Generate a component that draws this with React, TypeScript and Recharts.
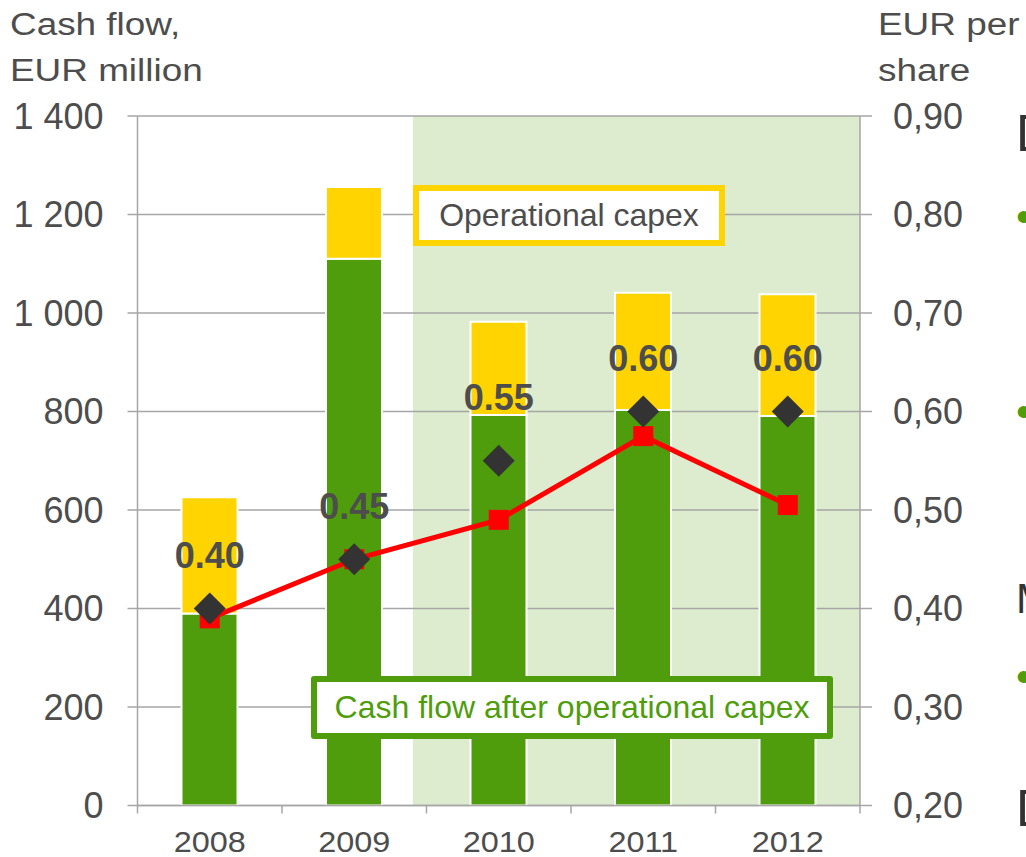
import React from 'react';
import {
  ComposedChart,
  Bar,
  Line,
  XAxis,
  YAxis,
  CartesianGrid,
  LabelList,
} from 'recharts';

// values
const years = ['2008', '2009', '2010', '2011', '2012'];
const cashFlowAfterCapex = [390, 1110, 793, 803, 791];
const operationalCapex = [236, 146, 189, 238, 247];
const epsPerShare = [0.39, 0.45, 0.49, 0.575, 0.505];
const dividendPerShare = [0.4, 0.45, 0.55, 0.6, 0.6];

const leftTicks = [0, 200, 400, 600, 800, 1000, 1200, 1400];
const rightTicks = [0.2, 0.3, 0.4, 0.5, 0.6, 0.7, 0.8, 0.9];

const data = years.map((year, i) => ({
  year,
  after: cashFlowAfterCapex[i],
  capex: operationalCapex[i],
  eps: epsPerShare[i],
  dividend: dividendPerShare[i],
}));

const W = 1026;
const H = 857;
const TOP = 116;
const X_AXIS_H = 51.5;
const LEFT_AXIS_W = 137.5;
const RIGHT_AXIS_W = 166;
const PLOT_W = W - LEFT_AXIS_W - RIGHT_AXIS_W;
const BAND = PLOT_W / years.length;
const SHADE_FROM = 1.905; // shaded region starts a little before the 2010 band

const FONT = '"Liberation Sans", Arial, sans-serif';
const TEXT = '#4d4d4d';
const GRID = '#a6a6a6';
const GREEN = '#4f9d0c';
const YELLOW = '#ffd400';
const SHADE = '#ddebcf';

const fmtLeft = (v: number) =>
  v >= 1000 ? `${Math.floor(v / 1000)} ${String(v % 1000).padStart(3, '0')}` : String(v);
const fmtRight = (v: number) => v.toFixed(2).replace('.', ',');

const XTick = (props: any) => {
  const { x, y, payload, index } = props;
  const top = y - 26;
  return (
    <g>
      <line x1={x - BAND / 2} x2={x - BAND / 2} y1={top} y2={top + 8} stroke={GRID} strokeWidth={1.5} />
      {index === years.length - 1 && (
        <line x1={x + BAND / 2} x2={x + BAND / 2} y1={top} y2={top + 8} stroke={GRID} strokeWidth={1.5} />
      )}
      <text
        transform={`translate(${x},${y + 20}) scale(1.08,1)`}
        textAnchor="middle"
        fill={TEXT}
        fontSize={30}
        fontFamily={FONT}
      >
        {payload.value}
      </text>
    </g>
  );
};

const Square = (props: any) => {
  const { cx, cy } = props;
  if (cx == null || cy == null) return null;
  return <rect x={cx - 10} y={cy - 10} width={20} height={20} fill="#ff0000" />;
};

const Diamond = (props: any) => {
  const { cx, cy } = props;
  if (cx == null || cy == null) return null;
  const r = 16;
  return (
    <path d={`M${cx},${cy - r} L${cx + r},${cy} L${cx},${cy + r} L${cx - r},${cy} Z`} fill="#333333" />
  );
};

const DividendLabel = (props: any) => {
  const { x, y, value } = props;
  const lift = value === 0.55 ? 63 : 53;
  return (
    <text
      x={x}
      y={y - lift}
      textAnchor="middle"
      dominantBaseline="central"
      fill={TEXT}
      fontSize={36}
      fontWeight="bold"
      fontFamily={FONT}
    >
      {value.toFixed(2)}
    </text>
  );
};

const title: React.CSSProperties = {
  position: 'absolute',
  top: 2,
  fontFamily: FONT,
  fontSize: 31,
  lineHeight: '46px',
  color: TEXT,
  whiteSpace: 'nowrap',
  transform: 'scaleX(1.19)',
  transformOrigin: 'left top',
};

const boxText: React.CSSProperties = {
  position: 'absolute',
  boxSizing: 'border-box',
  background: '#fff',
  display: 'flex',
  alignItems: 'center',
  justifyContent: 'center',
  fontFamily: FONT,
  fontSize: 32,
};

const edge: React.CSSProperties = {
  position: 'absolute',
  left: 1016,
  fontFamily: FONT,
  lineHeight: 1,
  whiteSpace: 'nowrap',
};

export default function App() {
  return (
    <div style={{ position: 'fixed', left: 0, top: 0, width: W, height: H, overflow: 'hidden', background: '#fff' }}>
      {/* light green background behind the later years */}
      <div
        style={{
          position: 'absolute',
          left: LEFT_AXIS_W + SHADE_FROM * BAND,
          top: TOP,
          width: (years.length - SHADE_FROM) * BAND,
          height: H - TOP - X_AXIS_H,
          background: SHADE,
        }}
      />
      <div style={{ ...title, left: 10 }}>
        Cash flow,
        <br />
        EUR million
      </div>
      <div style={{ ...title, left: 878 }}>
        EUR per
        <br />
        share
      </div>

      <ComposedChart
        width={W}
        height={H}
        data={data}
        margin={{ top: TOP, right: 0, bottom: 0, left: 0 }}
        barCategoryGap={0}
      >
        <CartesianGrid vertical={false} stroke={GRID} strokeWidth={1.5} yAxisId="left" />
        <XAxis
          dataKey="year"
          height={X_AXIS_H}
          interval={0}
          tickSize={8}
          tickMargin={18}
          tickLine={false}
          axisLine={{ stroke: GRID, strokeWidth: 1.5 }}
          tick={<XTick />}
        />
        <YAxis
          yAxisId="left"
          width={LEFT_AXIS_W}
          domain={[0, 1400]}
          ticks={leftTicks}
          tickFormatter={fmtLeft}
          tickSize={10}
          tickMargin={24}
          tickLine={{ stroke: GRID, strokeWidth: 1.5 }}
          axisLine={{ stroke: GRID, strokeWidth: 1.5 }}
          tick={{ fill: TEXT, fontSize: 36, fontFamily: FONT }}
        />
        <YAxis
          yAxisId="right"
          orientation="right"
          width={RIGHT_AXIS_W}
          domain={[0.2, 0.9]}
          ticks={rightTicks}
          tickFormatter={fmtRight}
          tickSize={12}
          tickMargin={21}
          tickLine={{ stroke: GRID, strokeWidth: 1.5 }}
          axisLine={{ stroke: GRID, strokeWidth: 1.5 }}
          tick={{ fill: TEXT, fontSize: 36, fontFamily: FONT }}
        />
        <Bar yAxisId="left" dataKey="after" stackId="cf" fill={GREEN} stroke="#fff" strokeWidth={2} barSize={56} isAnimationActive={false} />
        <Bar yAxisId="left" dataKey="capex" stackId="cf" fill={YELLOW} stroke="#fff" strokeWidth={2} barSize={56} isAnimationActive={false} />
        <Line
          yAxisId="right"
          dataKey="eps"
          stroke="#ff0000"
          strokeWidth={5}
          dot={<Square />}
          activeDot={false}
          isAnimationActive={false}
        />
        <Line
          yAxisId="right"
          dataKey="dividend"
          stroke="none"
          dot={<Diamond />}
          activeDot={false}
          isAnimationActive={false}
        >
          <LabelList dataKey="dividend" content={<DividendLabel />} />
        </Line>
      </ComposedChart>

      <div style={{ ...boxText, left: 413, top: 185, width: 312, height: 61, border: `6px solid ${YELLOW}`, color: TEXT }}>
        Operational capex
      </div>
      <div style={{ ...boxText, left: 311, top: 676, width: 522, height: 63, border: `6px solid ${GREEN}`, borderRadius: 3, color: GREEN }}>
        Cash flow after operational capex
      </div>

      <span style={{ ...edge, top: 108, fontSize: 51, color: '#333' }}>D</span>
      <span style={{ ...edge, top: 195, fontSize: 44, color: GREEN }}>•</span>
      <span style={{ ...edge, top: 390, fontSize: 44, color: GREEN }}>•</span>
      <span style={{ ...edge, top: 578, fontSize: 42, color: '#333' }}>M</span>
      <span style={{ ...edge, top: 655, fontSize: 44, color: GREEN }}>•</span>
      <span style={{ ...edge, top: 783, fontSize: 51, color: '#333' }}>D</span>
    </div>
  );
}
